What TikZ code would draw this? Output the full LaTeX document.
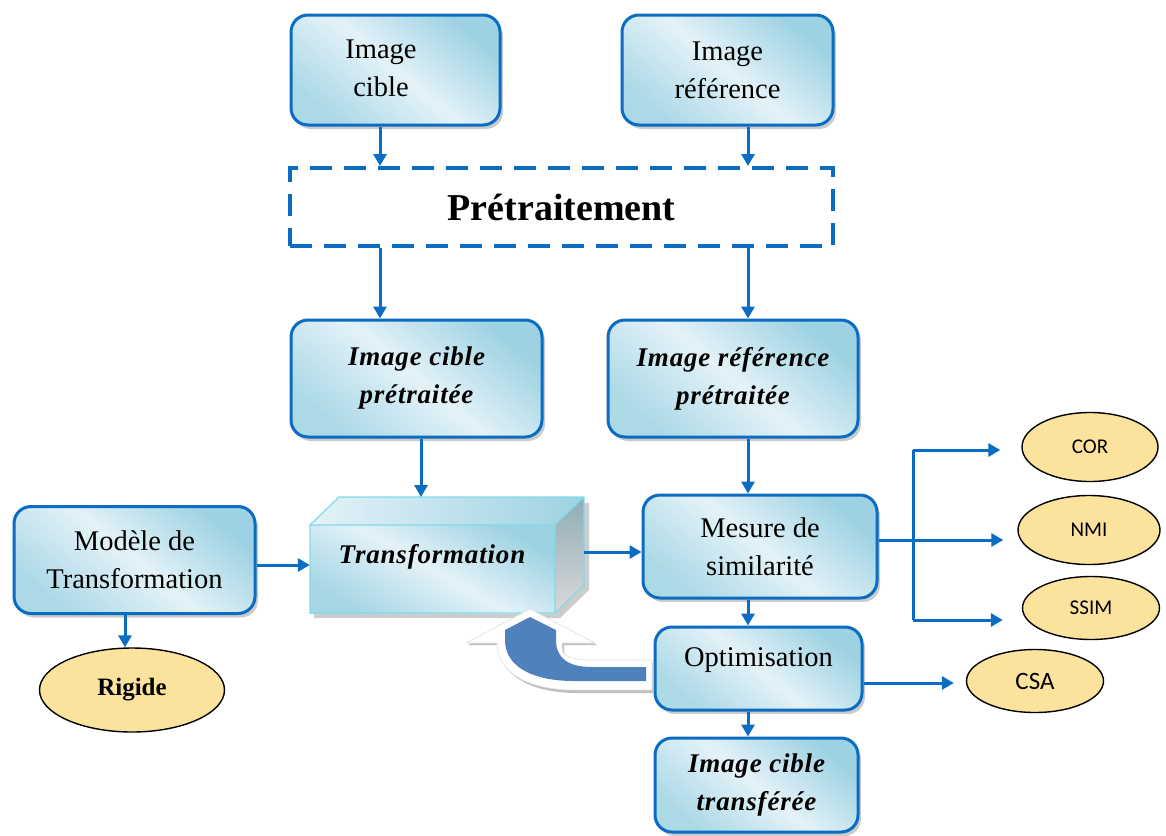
\documentclass[tikz,border=0pt]{standalone}
\usepackage{fontspec}
\setmainfont{Liberation Serif}
\newfontfamily\calib{Carlito}
\newfontfamily\spaced[LetterSpace=3]{Liberation Serif}
\usetikzlibrary{arrows.meta,shadows,calc,shapes.geometric}
\definecolor{boxblue}{HTML}{0A6CC2}
\definecolor{fillA}{HTML}{9DD2E2}
\definecolor{fillB}{HTML}{E4F2F8}
\definecolor{ellfill}{HTML}{FBE29D}
\definecolor{uturn}{HTML}{4F81BD}
\tikzset{
  glass/.style={top color=fillA, bottom color=fillA!85!white, middle color=fillB, shading angle=-40},
  box/.style={draw=boxblue, line width=3pt, rounded corners=17pt, glass,
    drop shadow={shadow xshift=3pt, shadow yshift=-4pt, fill=black!45, opacity=.45},
    align=center, font=\fontsize{28.5}{38}\selectfont, inner sep=0pt},
  bibox/.style={box, font=\spaced\fontsize{27}{38}\selectfont\bfseries\itshape},
  arr/.style={draw=boxblue, line width=3pt, -{Triangle[length=12pt,width=13pt]}},
  line/.style={draw=boxblue, line width=3pt},
  oval/.style={ellipse, draw=black, line width=1.4pt, fill=ellfill, inner sep=0pt},
  small/.style={font=\calib\fontsize{21}{24}\selectfont},
}
\begin{document}
\begin{tikzpicture}[x=1pt,y=-1pt]
\useasboundingbox (0,0) rectangle (1166,835);

% input images
\node[box, minimum width=209pt, minimum height=110pt] (cible) at (395.5,70) {};
\node[align=center, font=\fontsize{28.5}{38}\selectfont] (ciblelbl) at (381,68) {Image\\cible};
\node[box, minimum width=211pt, minimum height=110pt] (ref) at (727.5,70) {Image\\référence};

% preprocessing stage
\node[draw=boxblue, line width=4pt, dash pattern=on 22pt off 12pt,
      minimum width=543pt, minimum height=78pt, font=\fontsize{38}{42}\selectfont\bfseries]
      (pre) at (561.5,207) {Prétraitement};

\node[bibox, minimum width=251pt, minimum height=117pt] (cpre) at (416.5,378.5) {Image cible\\prétraitée};
\node[bibox, minimum width=250pt, minimum height=117pt] (rpre) at (733,378.5) {Image référence\\prétraitée};

% transformation block (3-D box)
\node[minimum width=245pt, minimum height=88pt, inner sep=0pt] (tf) at (432.5,569) {};
\fill[black!40, opacity=.5] (314,531) -- (314,618) -- (560,618) -- (589,590) -- (589,503) -- (343,503) -- cycle;
\shade[left color=fillB, right color=fillA] (310,525) -- (339,497) -- (584,497) -- (555,525) -- cycle;
\shade[top color=fillA!55!gray, bottom color=white!70!gray] (555,525) -- (584,497) -- (584,585) -- (555,613) -- cycle;
\shade[top color=fillA, bottom color=fillA!90!white, middle color=fillB, shading angle=-30] (310,525) rectangle (555,613);
\draw[fillA!80!cyan, line width=1.2pt, line join=round] (310,525) -- (339,497) -- (584,497) -- (584,585) -- (555,613) -- (310,613) -- cycle
  (310,525) -- (555,525) -- (584,497) (555,525) -- (555,613);
\node[font=\spaced\fontsize{27}{30}\selectfont\bfseries\itshape] (tflbl) at (432,557) {Transformation};
\coordinate (tside) at (584,552);

\node[box, minimum width=241pt, minimum height=107pt] (mod) at (134.5,560) {Modèle de\\Transformation};
\node[oval, minimum width=185pt, minimum height=84pt, font=\fontsize{25}{27}\selectfont\bfseries] (rig) at (132,690) {Rigide};

\node[box, minimum width=234pt, minimum height=103pt] (mes) at (760,546.5) {Mesure de\\similarité};
\node[box, minimum width=207pt, minimum height=83pt] (opt) at (758.5,668.5) {};
\node[font=\fontsize{28.5}{30}\selectfont] (optlbl) at (758.5,660) {Optimisation};
\node[bibox, minimum width=203pt, minimum height=94pt] (trf) at (756.5,785) {Image cible\\transférée};

% similarity measures and optimiser
\node[oval, small, minimum width=136pt, minimum height=69pt] (cor) at (1090,447) {COR};
\node[oval, small, minimum width=142pt, minimum height=69pt] (nmi) at (1089,530) {NMI};
\node[oval, small, minimum width=137pt, minimum height=63pt] (ssim) at (1091,608) {SSIM};
\node[oval, minimum width=137pt, minimum height=63pt, font=\calib\fontsize{25}{27}\selectfont] (csa) at (1035,681) {CSA};

% connectors
\draw[arr] (380,0 |- cible.south) -- (380,0 |- pre.north);
\draw[arr] (748,0 |- ref.south) -- (748,0 |- pre.north);
\draw[arr] (380,0 |- pre.south) -- (380,0 |- cpre.north);
\draw[arr] (748,0 |- pre.south) -- (748,0 |- rpre.north);
\draw[arr] (421,0 |- cpre.south) -- (421,497);
\draw[arr] (748,0 |- rpre.south) -- (748,0 |- mes.north);
\draw[arr] (mod.east |- 0,565) -- (tf.west |- 0,565);
\draw[arr] (125,0 |- mod.south) -- (125,0 |- rig.north);
\draw[arr] (tside) -- (mes.west |- tside);
\draw[arr] (mes.east |- 0,540) -- ($(nmi.west |- 0,540)+(-14,0)$);
\draw[line] (913,450) -- (913,620);
\draw[arr] (913,450) -- ($(cor.west |- 0,450)+(-21,0)$);
\draw[arr] (913,620) -- ($(ssim.west |- 0,620)+(-19,0)$);
\draw[arr] (748,0 |- mes.south) -- (748,0 |- opt.north);
\draw[arr] (748,0 |- opt.south) -- (748,0 |- trf.north);
\draw[arr] (opt.east |- 0,683) -- ($(csa.west |- 0,683)+(-12,0)$);

% feedback arrow from the optimiser back to the transformation
\fill[black!25] (532,612) -- (597,645) -- (564,645) -- (564,650)
  .. controls (564,660) and (578,662) .. (597,662) -- (654,662) -- (654,693) -- (577,693)
  .. controls (529,693) and (499,674) .. (499,645) -- (468,645) -- cycle;
\filldraw[fill=white, draw=black!12, line width=.6pt] (530,609) -- (595,643) -- (562,643) -- (562,648)
  .. controls (562,658) and (576,660) .. (595,660) -- (652,660) -- (652,690) -- (575,690)
  .. controls (527,690) and (497,672) .. (497,643) -- (466,643) -- cycle;
\fill[uturn] (530,617) -- (556,630) -- (556,640)
  .. controls (556,658) and (568,667) .. (592,667) -- (646,667) -- (646,681) -- (574,681)
  .. controls (535,681) and (505,668) .. (505,640) -- (505,630) -- cycle;
\end{tikzpicture}
\end{document}
